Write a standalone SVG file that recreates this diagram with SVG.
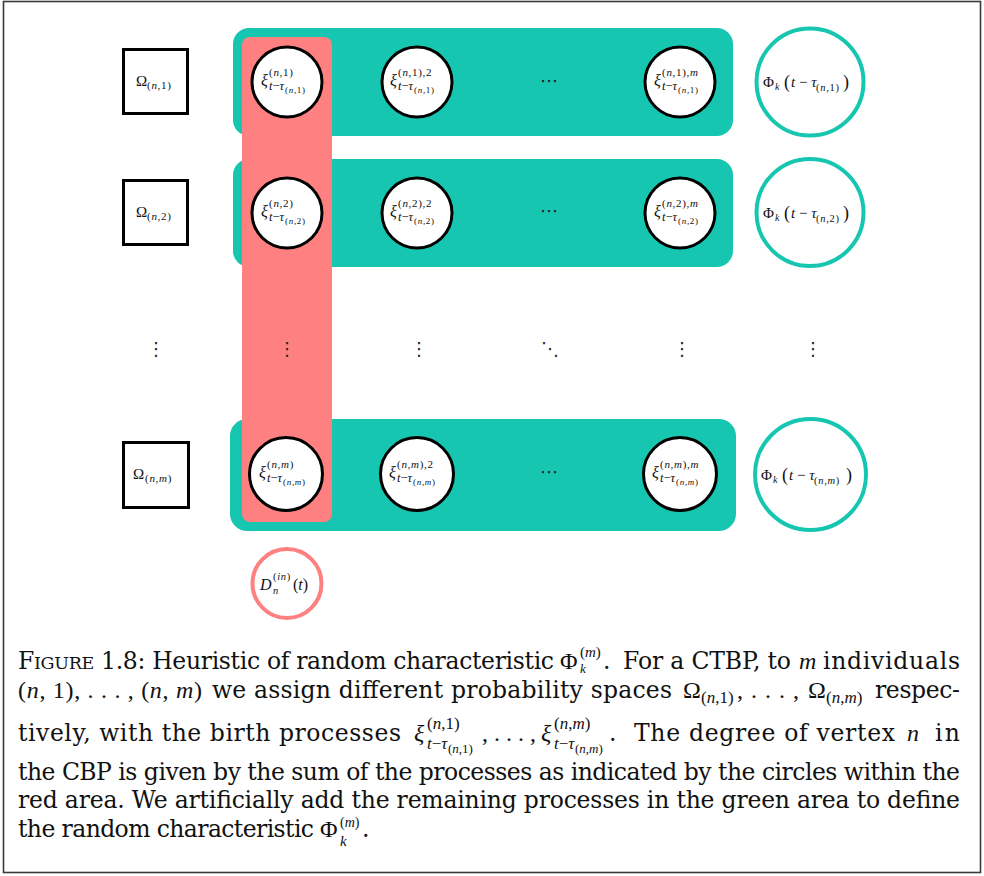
<svg xmlns="http://www.w3.org/2000/svg" width="984" height="876" viewBox="0 0 984 876">
<style>
.frame{fill:#fff;stroke:#3a3a3a;stroke-width:1.6}
.band{fill:#17c6b0}
.red{fill:#ff8080}
.box{fill:#fff;stroke:#000;stroke-width:3}
.proc{fill:#fff;stroke:#000;stroke-width:3}
.phi{fill:#fff;stroke:#17c6b0;stroke-width:4}
.din{fill:#fff;stroke:#ff8080;stroke-width:4}
text{fill:#111}
.r{font-family:"Liberation Serif",serif;font-style:normal}
.i{font-family:"Liberation Serif",serif;font-style:italic}
.s{letter-spacing:0.7px}
.dots{font-family:"DejaVu Sans",sans-serif;font-size:18px;text-anchor:middle;fill:#222}
.cap{font-family:"DejaVu Serif",serif;font-size:23.5px}
.cm{font-family:"Liberation Serif",serif;font-size:24px}
</style>
<rect class="frame" x="3.5" y="1.5" width="977" height="871"/>

<g id="bands">
<rect id="band1" class="band" x="233" y="28" width="500" height="108" rx="16"/>
<rect id="band2" class="band" x="233" y="159" width="500" height="108" rx="16"/>
<rect id="bandm" class="band" x="230" y="419" width="506" height="112" rx="17"/>
<rect id="redband" class="red" x="242" y="37" width="90" height="485" rx="8"/>
</g>

<g id="connectors"></g>

<!-- Row 1 -->
<g id="omega1">
<rect class="box" x="123.5" y="49.5" width="64" height="64"/>
<text class="r" x="136" y="86" font-size="15">Ω</text>
<text class="r s" x="147" y="89" font-size="11">(<tspan class="i">n</tspan>,1)</text>
</g>
<g id="xi11">
<circle class="proc" cx="287" cy="82" r="35"/>
<text class="i" x="261" y="86" font-size="16">ξ</text>
<text class="r s" x="269" y="76" font-size="11">(<tspan class="i">n</tspan>,1)</text>
<text class="i" x="269" y="90" font-size="12.5">t<tspan class="r">−</tspan>τ</text>
<text class="r s" x="285" y="93" font-size="9">(<tspan class="i">n</tspan>,1)</text>
</g>
<g id="xi12">
<circle class="proc" cx="417" cy="82" r="35"/>
<text class="i" x="390" y="86" font-size="16">ξ</text>
<text class="r s" x="398" y="76" font-size="11">(<tspan class="i">n</tspan>,1),2</text>
<text class="i" x="398" y="90" font-size="12.5">t<tspan class="r">−</tspan>τ</text>
<text class="r s" x="414" y="93" font-size="9">(<tspan class="i">n</tspan>,1)</text>
</g>
<text class="dots" x="549" y="87">⋯</text>
<g id="xi1m">
<circle class="proc" cx="680" cy="82" r="35"/>
<text class="i" x="654" y="86" font-size="16">ξ</text>
<text class="r s" x="662" y="76" font-size="11">(<tspan class="i">n</tspan>,1),<tspan class="i">m</tspan></text>
<text class="i" x="662" y="90" font-size="12.5">t<tspan class="r">−</tspan>τ</text>
<text class="r s" x="678" y="93" font-size="9">(<tspan class="i">n</tspan>,1)</text>
</g>
<g id="phi1">
<circle class="phi" cx="810" cy="82" r="53.5"/>
<text class="r" x="763" y="87" font-size="15">Φ</text>
<text class="i" x="775" y="90" font-size="10">k</text>
<text class="r" x="784" y="88" font-size="18">(</text>
<text class="i" x="791" y="87" font-size="15">t<tspan class="r"> − </tspan>τ</text>
<text class="r s" x="816" y="91" font-size="10.5">(<tspan class="i">n</tspan>,1)</text>
<text class="r" x="843" y="88" font-size="18">)</text>
</g>

<!-- Row 2 -->
<g id="omega2">
<rect class="box" x="123.5" y="180.5" width="64" height="64"/>
<text class="r" x="136" y="217" font-size="15">Ω</text>
<text class="r s" x="147" y="220" font-size="11">(<tspan class="i">n</tspan>,2)</text>
</g>
<g id="xi21">
<circle class="proc" cx="287" cy="213" r="35"/>
<text class="i" x="261" y="217" font-size="16">ξ</text>
<text class="r s" x="269" y="207" font-size="11">(<tspan class="i">n</tspan>,2)</text>
<text class="i" x="269" y="221" font-size="12.5">t<tspan class="r">−</tspan>τ</text>
<text class="r s" x="285" y="224" font-size="9">(<tspan class="i">n</tspan>,2)</text>
</g>
<g id="xi22">
<circle class="proc" cx="417" cy="213" r="35"/>
<text class="i" x="390" y="217" font-size="16">ξ</text>
<text class="r s" x="398" y="207" font-size="11">(<tspan class="i">n</tspan>,2),2</text>
<text class="i" x="398" y="221" font-size="12.5">t<tspan class="r">−</tspan>τ</text>
<text class="r s" x="414" y="224" font-size="9">(<tspan class="i">n</tspan>,2)</text>
</g>
<text class="dots" x="549" y="217">⋯</text>
<g id="xi2m">
<circle class="proc" cx="680" cy="213" r="35"/>
<text class="i" x="654" y="217" font-size="16">ξ</text>
<text class="r s" x="662" y="207" font-size="11">(<tspan class="i">n</tspan>,2),<tspan class="i">m</tspan></text>
<text class="i" x="662" y="221" font-size="12.5">t<tspan class="r">−</tspan>τ</text>
<text class="r s" x="678" y="224" font-size="9">(<tspan class="i">n</tspan>,2)</text>
</g>
<g id="phi2">
<circle class="phi" cx="810" cy="212.5" r="53.5"/>
<text class="r" x="763" y="218" font-size="15">Φ</text>
<text class="i" x="775" y="221" font-size="10">k</text>
<text class="r" x="784" y="219" font-size="18">(</text>
<text class="i" x="791" y="218" font-size="15">t<tspan class="r"> − </tspan>τ</text>
<text class="r s" x="816" y="222" font-size="10.5">(<tspan class="i">n</tspan>,2)</text>
<text class="r" x="843" y="219" font-size="18">)</text>
</g>

<!-- vertical dots row -->
<g id="vdots">
<text class="dots" x="156" y="355">⋮</text>
<text class="dots" x="287" y="355">⋮</text>
<text class="dots" x="419" y="355">⋮</text>
<text class="dots" x="550" y="355">⋱</text>
<text class="dots" x="682" y="355">⋮</text>
<text class="dots" x="813" y="355">⋮</text>
</g>

<!-- Row m -->
<g id="omegam">
<rect class="box" x="123.5" y="442.5" width="65" height="65"/>
<text class="r" x="133" y="479" font-size="15">Ω</text>
<text class="r s" x="145" y="482" font-size="11">(<tspan class="i">n</tspan>,<tspan class="i">m</tspan>)</text>
</g>
<g id="ximm1">
<circle class="proc" cx="286" cy="474" r="36.5"/>
<text class="i" x="259" y="478" font-size="16">ξ</text>
<text class="r s" x="267" y="468" font-size="11">(<tspan class="i">n</tspan>,<tspan class="i">m</tspan>)</text>
<text class="i" x="267" y="482" font-size="12.5">t<tspan class="r">−</tspan>τ</text>
<text class="r s" x="283" y="485" font-size="9">(<tspan class="i">n</tspan>,<tspan class="i">m</tspan>)</text>
</g>
<g id="ximm2">
<circle class="proc" cx="417" cy="474" r="36.5"/>
<text class="i" x="389" y="478" font-size="16">ξ</text>
<text class="r s" x="397" y="468" font-size="11">(<tspan class="i">n</tspan>,<tspan class="i">m</tspan>),2</text>
<text class="i" x="397" y="482" font-size="12.5">t<tspan class="r">−</tspan>τ</text>
<text class="r s" x="413" y="485" font-size="9">(<tspan class="i">n</tspan>,<tspan class="i">m</tspan>)</text>
</g>
<text class="dots" x="549" y="478">⋯</text>
<g id="ximmm">
<circle class="proc" cx="680" cy="474" r="36.5"/>
<text class="i" x="652" y="478" font-size="16">ξ</text>
<text class="r s" x="660" y="468" font-size="11">(<tspan class="i">n</tspan>,<tspan class="i">m</tspan>),<tspan class="i">m</tspan></text>
<text class="i" x="660" y="482" font-size="12.5">t<tspan class="r">−</tspan>τ</text>
<text class="r s" x="676" y="485" font-size="9">(<tspan class="i">n</tspan>,<tspan class="i">m</tspan>)</text>
</g>
<g id="phim">
<circle class="phi" cx="810.5" cy="474.5" r="55.5"/>
<text class="r" x="761" y="480" font-size="15">Φ</text>
<text class="i" x="773" y="483" font-size="10">k</text>
<text class="r" x="782" y="481" font-size="18">(</text>
<text class="i" x="789" y="480" font-size="15">t<tspan class="r"> − </tspan>τ</text>
<text class="r s" x="814" y="484" font-size="10.5">(<tspan class="i">n</tspan>,<tspan class="i">m</tspan>)</text>
<text class="r" x="846" y="481" font-size="18">)</text>
</g>

<g id="din">
<circle class="din" cx="287" cy="583.5" r="34.5"/>
<text class="i" x="260" y="590" font-size="16">D</text>
<text class="r s" x="273" y="580" font-size="10.5">(<tspan class="i">in</tspan>)</text>
<text class="i" x="273" y="594" font-size="10.5">n</text>
<text class="r" x="293" y="590" font-size="16">(<tspan class="i">t</tspan>)</text>
</g>

<!-- Caption -->
<g id="caption">
<text class="cap" x="18" y="669" textLength="536" lengthAdjust="spacing">F<tspan font-size="17.5">IGURE</tspan> 1.8: Heuristic of random characteristic</text>
<text class="cm" x="560" y="669">Φ</text>
<text class="i" x="580" y="673" font-size="13">k</text>
<text class="r" x="580" y="657" font-size="15">(<tspan class="i">m</tspan>)</text>
<text class="cap" x="603" y="669">.</text>
<text class="cap" x="623" y="669" textLength="168" lengthAdjust="spacing">For a CTBP, to</text>
<text class="cm i" x="799" y="669">m</text>
<text class="cap" x="823" y="669" textLength="137" lengthAdjust="spacing">individuals</text>

<text class="cm" x="18" y="698" textLength="184" lengthAdjust="spacing">(<tspan class="i">n</tspan>, 1), . . . , (<tspan class="i">n</tspan>, <tspan class="i">m</tspan>)</text>
<text class="cap" x="212" y="698" textLength="460" lengthAdjust="spacing">we assign different probability spaces</text>
<text class="cm" x="683" y="698">Ω</text>
<text class="r" x="701" y="703" font-size="17">(<tspan class="i">n</tspan>,1)</text>
<text class="cm" x="737" y="698" textLength="62" lengthAdjust="spacing">, . . . ,</text>
<text class="cm" x="808" y="698">Ω</text>
<text class="r" x="826" y="703" font-size="17">(<tspan class="i">n</tspan>,<tspan class="i">m</tspan>)</text>
<text class="cap" x="875" y="698" textLength="85" lengthAdjust="spacing">respec-</text>

<text class="cap" x="18" y="741" textLength="383" lengthAdjust="spacing">tively, with the birth processes</text>
<text class="cm i" x="414" y="741">ξ</text>
<text class="r" x="427" y="729" font-size="17">(<tspan class="i">n</tspan>,1)</text>
<text class="i" x="427" y="749" font-size="17">t<tspan class="r">−</tspan>τ</text>
<text class="r" x="448" y="753" font-size="13">(<tspan class="i">n</tspan>,1)</text>
<text class="cm" x="482" y="741">, . . . ,</text>
<text class="cm i" x="541" y="741">ξ</text>
<text class="r" x="554" y="729" font-size="17">(<tspan class="i">n</tspan>,<tspan class="i">m</tspan>)</text>
<text class="i" x="554" y="749" font-size="17">t<tspan class="r">−</tspan>τ</text>
<text class="r" x="575" y="753" font-size="13">(<tspan class="i">n</tspan>,<tspan class="i">m</tspan>)</text>
<text class="cap" x="609" y="741">.</text>
<text class="cap" x="634" y="741" textLength="261" lengthAdjust="spacing">The degree of vertex</text>
<text class="cm i" x="907" y="741">n</text>
<text class="cap" x="935" y="741" textLength="25" lengthAdjust="spacing">in</text>

<text class="cap" x="18" y="780" textLength="942" lengthAdjust="spacing">the CBP is given by the sum of the processes as indicated by the circles within the</text>
<text class="cap" x="18" y="808" textLength="942" lengthAdjust="spacing">red area. We artificially add the remaining processes in the green area to define</text>

<text class="cap" x="18" y="837" textLength="296" lengthAdjust="spacing">the random characteristic</text>
<text class="cm" x="320" y="837">Φ</text>
<text class="i" x="340" y="846" font-size="15">k</text>
<text class="r" x="340" y="827" font-size="14">(<tspan class="i">m</tspan>)</text>
<text class="cap" x="362" y="837">.</text>
</g>
</svg>
